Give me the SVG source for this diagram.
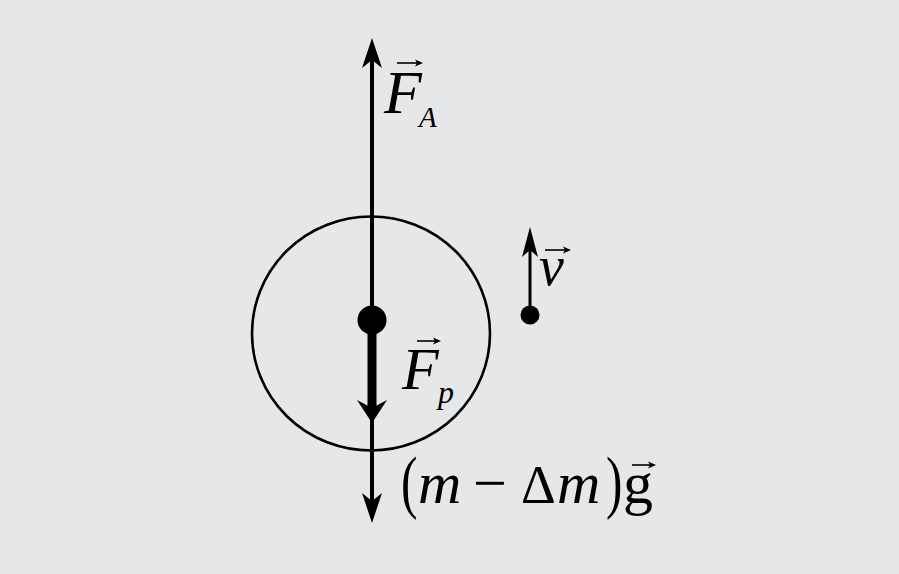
<svg xmlns="http://www.w3.org/2000/svg" width="899" height="574" viewBox="0 0 899 574">
<defs>
<style>
.bg{fill:#e6e7e9}
.ln{stroke:#000;fill:none;stroke-linecap:butt}
.hd{fill:#000;stroke:none}
.t{font-family:"Liberation Serif","Times New Roman",serif;fill:#000}
.it{font-style:italic}
.acc{stroke:#000;stroke-width:1.6;fill:none}
</style>
<path id="accHead" d="M0,0 L-8,-3.5 L-6,0 L-8,3.5 Z" fill="#000"/>
</defs>
<rect class="bg" x="0" y="0" width="899" height="574"/>

<g id="body">
<ellipse cx="371" cy="333.5" rx="119" ry="117" class="ln" stroke-width="2.6"/>
<circle cx="372" cy="320" r="14.5" fill="#000"/>
</g>

<g id="particle">
<circle cx="530" cy="315" r="9.5" fill="#000"/>
</g>

<g id="connectors">
<line class="ln" x1="372" y1="55" x2="372" y2="510" stroke-width="4"/>
<path class="hd" d="M372,38 L382,68 L372,60 L362,68 Z"/>
<path class="hd" d="M372,523 L382,493 L372,501 L362,493 Z"/>
<line class="ln" x1="372" y1="330" x2="372" y2="408" stroke-width="9"/>
<path class="hd" d="M372,423 L387,400 L372,408 L357,400 Z"/>
<line class="ln" x1="530" y1="248" x2="530" y2="312" stroke-width="3"/>
<path class="hd" d="M530,227 L538,257 L530,250 L522,257 Z"/>
</g>

<g id="label-FA">
<text class="t it" x="384" y="113" font-size="62">F</text>
<text class="t it" x="419" y="127" font-size="29">A</text>
<line class="acc" x1="397" y1="63" x2="418" y2="63"/>
<use href="#accHead" x="423" y="63"/>
</g>

<g id="label-Fp">
<text class="t it" x="402" y="389" font-size="60">F</text>
<text class="t it" x="438" y="403" font-size="32">p</text>
<line class="acc" x1="417" y1="341" x2="436" y2="341"/>
<use href="#accHead" x="441" y="341"/>
</g>

<g id="label-v">
<text class="t it" x="539" y="285" font-size="56">v</text>
<line class="acc" x1="545" y1="250" x2="566" y2="250"/>
<use href="#accHead" x="571" y="250"/>
</g>

<g id="label-mg">
<text class="t" transform="translate(401,505) scale(0.85,1.2)" font-size="58">(</text>
<text class="t it" x="418" y="503" font-size="60">m</text>
<text class="t" x="473" y="503" font-size="60">−</text>
<text class="t" x="521" y="503" font-size="54">Δ</text>
<text class="t it" x="557" y="503" font-size="60">m</text>
<text class="t" transform="translate(606,505) scale(0.85,1.2)" font-size="58">)</text>
<text class="t" x="623" y="503" font-size="60">g</text>
<line class="acc" x1="632" y1="465" x2="651" y2="465"/>
<use href="#accHead" x="656" y="465"/>
</g>
</svg>
